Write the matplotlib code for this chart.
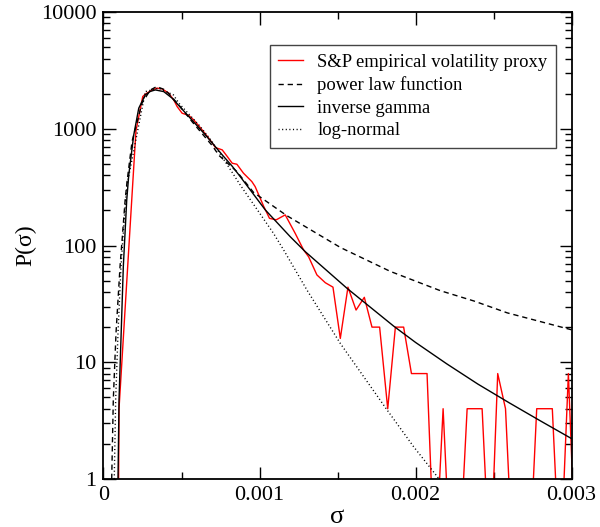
import numpy as np
import matplotlib
matplotlib.use("Agg")
import matplotlib.pyplot as plt
from matplotlib.ticker import FixedLocator, LogLocator, NullFormatter

plt.rcParams['font.family'] = ['Liberation Serif', 'DejaVu Serif']

# ---------------- data (sigma in units of 1e-3) ----------------
sigma_red = np.array([0.0931, 0.0995, 0.208, 0.2516, 0.268, 0.311, 0.343, 0.375, 0.418, 0.451,
                      0.472, 0.504, 0.547, 0.579, 0.632, 0.675, 0.718, 0.761, 0.793, 0.825,
                      0.855, 0.897, 0.951, 0.972, 1.026, 1.064, 1.107, 1.165, 1.229, 1.282,
                      1.315, 1.368, 1.422, 1.471, 1.518, 1.567, 1.619, 1.672, 1.721, 1.770,
                      1.822, 1.871, 1.924, 1.974, 2.024, 2.074, 2.124, 2.177, 2.227, 2.277,
                      2.331, 2.379, 2.427, 2.478, 2.527, 2.577, 2.627, 2.677, 2.727, 2.777,
                      2.827, 2.877, 2.927, 2.980, 3.030]) * 1e-3
p_red = np.array([0, 4, 960, 1890, 1980, 2150, 2230, 2200, 2020, 1760,
                  1550, 1360, 1300, 1190, 980, 830, 690, 660, 580, 507,
                  497, 417, 353, 320, 218, 171, 166, 183, 127, 92,
                  80, 56, 48, 44, 16, 44, 28, 36, 20, 20,
                  4, 20, 20, 8, 8, 8, 0, 4, 0, 0,
                  4, 4, 4, 0, 8, 4, 0, 0, 0, 4,
                  4, 4, 0, 8, 0], dtype=float)

sigma_pl = np.array([0.0526, 0.0629, 0.0802, 0.106, 0.138, 0.151, 0.183, 0.247, 0.300, 0.341,
                     0.397, 0.483, 0.568, 0.696, 0.741, 0.855, 0.962, 1.176, 1.52, 1.839,
                     2.160, 2.374, 2.588, 3.005]) * 1e-3
p_pl = np.array([1.0, 4.8, 17.8, 66, 238, 353, 780, 1660, 2150, 2300,
                 2150, 1600, 1150, 720, 590, 430, 285, 180, 96, 60,
                 41, 33.5, 26.5, 18.9])

sigma_ig = np.array([0.093, 0.0995, 0.127, 0.149, 0.162, 0.194, 0.226, 0.268, 0.300, 0.332,
                     0.386, 0.440, 0.547, 0.653, 0.761, 0.825, 0.876, 1.037, 1.197, 1.293,
                     1.561, 1.86, 2.0, 2.2, 2.4, 2.6, 2.8, 3.0]) * 1e-3
p_ig = np.array([1.0, 4.8, 66, 246, 403, 887, 1502, 1951, 2090, 2153,
                 2083, 1829, 1272, 887, 598, 478, 390, 202, 119, 88.7,
                 43, 20.4, 14.8, 9.7, 6.5, 4.5, 3.15, 2.22])

sigma_ln = np.array([0.069, 0.078, 0.093, 0.112, 0.141, 0.151, 0.268, 0.354, 0.448, 0.483,
                     0.619, 0.696, 0.812, 0.876, 1.090, 1.154, 1.304, 1.518, 1.818, 1.988,
                     2.149]) * 1e-3
p_ln = np.array([1.0, 4.8, 17.8, 66, 238, 331, 2083, 2228, 1951, 1657,
                 1050, 777, 450, 331, 127, 92, 41.6, 14.5, 3.9, 1.89,
                 1.01])

labels = ["S&P empirical volatility proxy", "power law function",
          "inverse gamma", "log-normal"]
x_ticks = [0, 0.001, 0.002, 0.003]
x_ticklabels = ["0", "0.001", "0.002", "0.003"]
y_ticks = [1, 10, 100, 1000, 10000]
y_ticklabels = ["1", "10", "100", "1000", "10000"]

# empty histogram bins drawn just below the axis floor
FLOOR = 0.15
p_red_draw = np.where(p_red > 0, p_red, FLOOR)

# ---------------- figure ----------------
fig = plt.figure(figsize=(6.0, 5.27), dpi=100)
ax = fig.add_axes([0.1725, 0.0911, 0.780, 0.886])

ax.plot(sigma_red, p_red_draw, color='#ff0000', lw=1.0, label=labels[0])
ax.plot(sigma_pl, p_pl, color='black', lw=1.0, linestyle=(0, (3.8, 2.8)), label=labels[1])
ax.plot(sigma_ig, p_ig, color='black', lw=1.0, label=labels[2])
ax.plot(sigma_ln, p_ln, color='black', lw=1.0, linestyle=(0, (0.8, 1.8)), label=labels[3])

ax.set_yscale('log')
ax.set_xlim(0, 0.003)
ax.set_ylim(1, 10000)

ax.xaxis.set_major_locator(FixedLocator(x_ticks))
ax.set_xticklabels(x_ticklabels)
ax.xaxis.set_minor_locator(FixedLocator([0.0005, 0.0015, 0.0025]))
ax.yaxis.set_major_locator(FixedLocator(y_ticks))
ax.set_yticklabels(y_ticklabels)
ax.yaxis.set_minor_locator(LogLocator(base=10, subs=np.arange(2, 10)))
ax.yaxis.set_minor_formatter(NullFormatter())

ax.tick_params(which='both', direction='in', top=True, right=True, width=1.0)
ax.tick_params(which='major', length=9, labelsize=16, pad=5)
ax.tick_params(which='minor', length=4.8)
for s in ax.spines.values():
    s.set_linewidth(1.3)

ax.set_xlabel("σ", fontsize=19, labelpad=1)
ax.set_ylabel("P(σ)", fontsize=17, labelpad=3)

leg = ax.legend(loc='upper right', bbox_to_anchor=(0.967, 0.929), fontsize=13.4,
                frameon=True, fancybox=False, framealpha=1, edgecolor='#444444',
                handlelength=1.35, handletextpad=0.75, labelspacing=0.3,
                borderpad=0.45, borderaxespad=0)
leg.get_frame().set_linewidth(1.0)

fig.savefig("out.png", dpi=100)
